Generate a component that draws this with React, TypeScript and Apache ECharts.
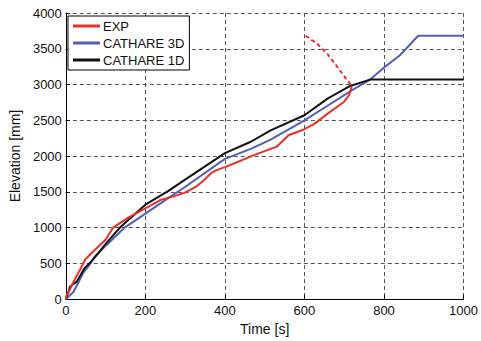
import React, { useEffect, useRef } from "react";
import * as echarts from "echarts";

const xTicks = [0, 200, 400, 600, 800, 1000];
const yTicks = [0, 500, 1000, 1500, 2000, 2500, 3000, 3500, 4000];

const expSolid: [number, number][] = [
  [0, 0], [2, 55], [11, 145], [23, 280], [36, 415], [44, 500], [48, 550], [65, 645],
  [82, 735], [100, 830], [119, 1000], [157, 1140], [200, 1270], [240, 1390], [273, 1440],
  [298, 1485], [330, 1580], [348, 1665], [365, 1760], [378, 1800], [400, 1845], [440, 1935],
  [465, 1995], [515, 2100], [530, 2130], [560, 2290], [600, 2375], [625, 2450], [660, 2600],
  [700, 2760], [712, 2850], [719, 2980],
];

const expDashed: [number, number][] = [
  [603, 3682], [632, 3569], [657, 3433], [682, 3252], [703, 3093], [719, 2980],
];

const cathare3D: [number, number][] = [
  [0, 0], [8, 40], [19, 100], [32, 235], [44, 370], [57, 460], [73, 600], [94, 710],
  [120, 850], [148, 1000], [200, 1195], [265, 1440], [298, 1560], [400, 1960], [465, 2100],
  [515, 2230], [600, 2500], [657, 2700], [723, 2933], [765, 3069], [798, 3229], [840, 3410],
  [886, 3682], [1000, 3682],
];

const cathare1D: [number, number][] = [
  [0, 0], [3, 50], [7, 100], [10, 170], [15, 195], [27, 240], [36, 326], [48, 440],
  [61, 507], [82, 643], [98, 757], [136, 1000], [200, 1320], [257, 1510], [298, 1664],
  [400, 2040], [465, 2200], [515, 2360], [600, 2570], [657, 2800], [715, 2980],
  [765, 3069], [1000, 3069],
];

const RED = "#e8312a";
const BLUE = "#5160b4";
const BLACK = "#111111";
const FONT = "Liberation Sans, Arial, sans-serif";

export default function App() {
  const ref = useRef<HTMLDivElement>(null);
  useEffect(() => {
    if (!ref.current) return;
    const chart = echarts.init(ref.current, undefined, { renderer: "svg" });
    const gridLine = { show: true, lineStyle: { color: "#555", width: 1, type: [4, 3] as any } };
    const fmt = (v: number) => String(v);
    chart.setOption({
      animation: false,
      backgroundColor: "#ffffff",
      textStyle: { fontFamily: FONT },
      grid: { left: 64, top: 13, right: 17, bottom: 34, containLabel: false },
      legend: {
        data: ["EXP", "CATHARE 3D", "CATHARE 1D"],
        orient: "vertical",
        left: 68,
        top: 16,
        padding: [3, 5, 3, 5],
        itemGap: 3,
        itemWidth: 27,
        itemHeight: 3,
        icon: "rect",
        borderColor: "#000",
        borderWidth: 1,
        backgroundColor: "#fff",
        textStyle: { fontSize: 13, color: "#111", fontFamily: FONT, lineHeight: 14, padding: [0, 0, 0, -2] },
      },
      xAxis: {
        type: "value",
        min: xTicks[0],
        max: xTicks[xTicks.length - 1],
        interval: 200,
        name: "Time [s]",
        nameLocation: "middle",
        nameGap: 19,
        nameTextStyle: { fontSize: 14, color: "#111", fontFamily: FONT },
        axisLine: { show: true, lineStyle: { color: "#000", width: 1 } },
        axisTick: { show: true, inside: true, length: 4, lineStyle: { color: "#000" } },
        axisLabel: { fontSize: 13, color: "#111", margin: 5, fontFamily: FONT, formatter: fmt },
        splitLine: gridLine,
      },
      yAxis: {
        type: "value",
        min: yTicks[0],
        max: yTicks[yTicks.length - 1],
        interval: 500,
        name: "Elevation [mm]",
        nameLocation: "middle",
        nameGap: 39,
        nameRotate: 90,
        nameTextStyle: { fontSize: 14, color: "#111", fontFamily: FONT },
        axisLine: { show: true, lineStyle: { color: "#000", width: 1 } },
        axisTick: { show: true, inside: true, length: 4, lineStyle: { color: "#000" } },
        axisLabel: { fontSize: 13, color: "#111", margin: 4, fontFamily: FONT, formatter: fmt },
        splitLine: gridLine,
      },
      series: [
        {
          name: "CATHARE 3D",
          type: "line",
          data: cathare3D,
          showSymbol: false,
          symbol: "none",
          lineStyle: { color: BLUE, width: 2 },
          itemStyle: { color: BLUE },
          z: 2,
        },
        {
          name: "CATHARE 1D",
          type: "line",
          data: cathare1D,
          showSymbol: false,
          symbol: "none",
          lineStyle: { color: BLACK, width: 2 },
          itemStyle: { color: BLACK },
          z: 3,
        },
        {
          name: "EXP",
          type: "line",
          data: expSolid,
          showSymbol: false,
          symbol: "none",
          lineStyle: { color: RED, width: 2 },
          itemStyle: { color: RED },
          z: 4,
        },
        {
          name: "EXP top",
          type: "line",
          data: expDashed,
          showSymbol: false,
          symbol: "none",
          lineStyle: { color: RED, width: 2, type: [4, 3] },
          itemStyle: { color: RED },
          z: 4,
        },
      ],
    });
    return () => chart.dispose();
  }, []);
  return (
    <div
      ref={ref}
      style={{ position: "fixed", left: 0, top: 0, width: 481, height: 341, background: "#fff" }}
    />
  );
}
